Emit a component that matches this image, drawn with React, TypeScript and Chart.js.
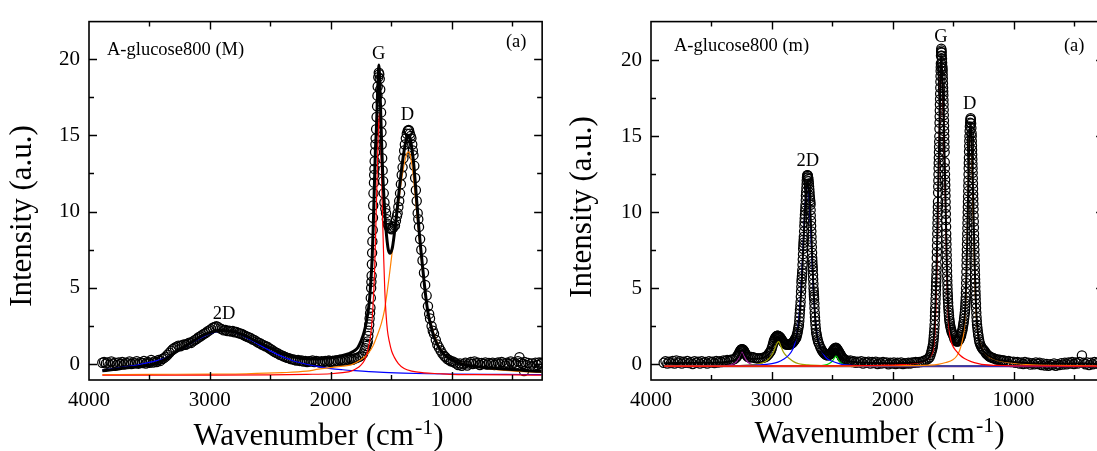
import React, { useEffect, useRef } from "react";
import { Chart, registerables } from "chart.js";

Chart.register(...registerables);

type Pair = [number, number];

// ---------- axis ticks ----------
const xMajorTicks = [4000, 3000, 2000, 1000];
const xMinorTicks = [3500, 2500, 1500, 500];
const yMajorTicks = [0, 5, 10, 15, 20];
const yMinorTicks = [2.5, 7.5, 12.5, 17.5];

// ---------- left panel: A-glucose800 (M) ----------
const leftMeasured: Pair[] = [
  [3890,0.10],[3875,0.15],[3860,0.05],[3845,0.12],[3830,-0.02],[3815,0.18],[3800,0.04],[3785,0.10],[3770,-0.05],[3755,0.12],
  [3740,0.02],[3725,0.15],[3710,0.00],[3695,0.10],[3680,0.05],[3665,0.18],[3650,0.02],[3635,0.12],[3620,0.06],[3605,0.20],
  [3590,0.04],[3575,0.14],[3560,0.08],[3545,0.22],[3530,0.05],[3515,0.15],[3500,0.10],[3485,0.28],[3470,0.12],[3455,0.20],
  [3440,0.15],[3425,0.28],[3410,0.22],[3395,0.35],[3380,0.40],[3365,0.50],[3350,0.62],[3335,0.75],[3320,0.88],[3305,1.00],
  [3290,1.08],[3275,1.15],[3260,1.22],[3245,1.18],[3230,1.25],[3215,1.30],[3200,1.28],[3185,1.35],[3170,1.42],[3155,1.40],
  [3140,1.50],[3125,1.58],[3110,1.65],[3095,1.75],[3080,1.82],[3065,1.90],[3050,1.98],[3035,2.05],[3020,2.15],[3005,2.22],
  [2990,2.30],[2975,2.40],[2960,2.45],[2945,2.50],[2930,2.42],[2915,2.35],[2900,2.30],[2885,2.22],[2870,2.25],[2855,2.18],
  [2840,2.20],[2825,2.15],[2810,2.18],[2795,2.10],[2780,2.12],[2765,2.05],[2750,2.02],[2735,1.98],[2720,1.92],[2705,1.85],
  [2690,1.80],[2675,1.75],[2660,1.70],[2645,1.62],[2630,1.58],[2615,1.50],[2600,1.42],[2585,1.38],[2570,1.30],[2555,1.25],
  [2540,1.18],[2525,1.15],[2510,1.05],[2495,0.98],[2480,0.90],[2465,0.82],[2450,0.75],[2435,0.70],[2420,0.62],[2405,0.58],
  [2390,0.52],[2375,0.48],[2360,0.42],[2345,0.40],[2330,0.35],[2315,0.32],[2300,0.30],[2285,0.25],[2270,0.28],[2255,0.22],
  [2240,0.25],[2225,0.18],[2210,0.22],[2195,0.15],[2180,0.20],[2165,0.18],[2150,0.25],[2135,0.15],[2120,0.22],[2105,0.18],
  [2090,0.12],[2075,0.20],[2060,0.15],[2045,0.22],[2030,0.18],[2015,0.25],[2000,0.15],[1985,0.22],[1970,0.18],[1955,0.25],
  [1940,0.20],[1925,0.28],[1910,0.22],[1895,0.30],[1880,0.25],[1865,0.32],[1850,0.28],[1835,0.35],[1820,0.30],[1805,0.38],
  [1790,0.40],[1775,0.45],[1760,0.50],[1745,0.58],[1732,0.70],[1720,0.90],[1712,1.05],[1705,1.20],[1699,1.35],[1693,1.50],
  [1689,1.85],[1685,2.20],[1681,2.60],[1678,3.00],[1674,3.35],[1671,3.70],[1668,4.35],[1665,5.00],[1663,5.40],[1661,5.80],
  [1659,6.55],[1657,7.30],[1655,8.05],[1652,8.80],[1650,9.60],[1648,10.40],[1646,11.20],[1642,11.90],[1640,12.40],[1638,12.80],
  [1636,13.30],[1633,13.90],[1630,14.40],[1628,14.80],[1624,15.40],[1620,16.20],[1616,16.90],[1613,17.60],[1611,18.20],[1606,18.80],
  [1602,19.10],[1598,19.00],[1594,18.70],[1590,18.00],[1586,17.20],[1583,16.50],[1581,15.80],[1580,15.20],[1578,14.40],[1574,13.50],
  [1570,12.70],[1566,12.00],[1561,11.20],[1555,10.60],[1548,10.20],[1542,9.90],[1535,9.50],[1528,9.20],[1523,9.10],[1515,8.95],
  [1505,8.90],[1496,8.85],[1488,8.90],[1480,9.00],[1468,9.10],[1460,9.40],[1452,9.70],[1446,9.90],[1440,10.30],[1433,10.70],
  [1426,11.20],[1419,11.80],[1412,12.40],[1405,12.90],[1398,13.50],[1392,14.00],[1386,14.40],[1378,14.80],[1370,15.10],[1362,15.30],
  [1355,15.35],[1351,15.30],[1345,15.10],[1338,14.95],[1332,14.80],[1325,14.40],[1320,14.00],[1315,13.70],[1308,13.00],[1301,12.20],
  [1295,11.40],[1288,10.70],[1280,9.90],[1275,9.50],[1269,9.00],[1260,8.20],[1250,7.50],[1240,6.80],[1228,6.00],[1218,5.20],
  [1206,4.50],[1195,3.80],[1185,3.30],[1178,3.00],[1165,2.50],[1155,2.20],[1145,2.00],[1130,1.60],[1118,1.30],[1104,1.10],
  [1090,0.90],[1075,0.70],[1060,0.55],[1050,0.47],[1035,0.35],[1020,0.28],[1005,0.20],[990,0.18],[975,0.12],[960,0.05],
  [945,-0.05],[930,0.05],[915,-0.10],[900,0.00],[885,0.10],[870,-0.08],[855,0.05],[840,0.15],[825,0.02],[810,0.18],
  [795,0.05],[780,0.10],[765,-0.05],[750,0.08],[735,0.02],[720,0.12],[705,-0.02],[690,0.08],[675,0.00],[660,0.10],
  [645,-0.05],[630,0.05],[615,0.12],[600,0.00],[585,0.15],[570,0.05],[555,-0.08],[540,0.10],[525,0.02],[510,0.18],
  [495,0.05],[480,0.12],[465,0.00],[450,0.20],[438,0.47],[425,0.10],[410,0.02],[400,-0.45],[395,0.15],[380,-0.05],
  [365,0.08],[350,-0.15],[335,0.05],[320,-0.10],[305,0.10],[290,-0.05],[275,0.12],[260,0.00],[255,0.10],
];

const leftFit: Pair[] = [
  [3890,-0.43],[3800,-0.35],[3700,-0.25],[3600,-0.17],[3500,-0.05],[3450,0.05],[3400,0.2],[3350,0.42],[3300,0.7],[3250,0.95],
  [3200,1.2],[3150,1.45],[3100,1.7],[3050,1.92],[3000,2.08],[2950,2.18],[2900,2.22],[2850,2.2],[2800,2.12],[2750,2.0],
  [2700,1.85],[2650,1.65],[2600,1.45],[2550,1.25],[2500,1.05],[2450,0.87],[2400,0.7],[2350,0.57],[2300,0.47],[2250,0.4],
  [2200,0.36],[2150,0.34],[2100,0.36],[2050,0.4],[2000,0.45],[1950,0.5],[1900,0.58],[1850,0.7],[1800,0.9],[1775,1.1],
  [1750,1.5],[1720,2.2],[1700,3.0],[1680,4.1],[1668,5.4],[1657,6.9],[1648,9.0],[1638,11.8],[1630,14.0],[1622,15.4],
  [1616,16.8],[1611,18.0],[1606,19.0],[1602,19.6],[1598,19.3],[1592,18.0],[1585,16.2],[1578,14.4],[1570,12.6],[1561,11.2],
  [1552,9.9],[1542,8.8],[1532,8.0],[1523,7.5],[1515,7.32],[1507,7.27],[1498,7.4],[1488,7.7],[1474,8.5],[1460,9.4],
  [1446,10.4],[1433,11.4],[1419,12.4],[1405,13.3],[1392,14.0],[1378,14.6],[1368,14.9],[1359,15.0],[1348,14.9],[1337,14.6],
  [1326,14.0],[1315,13.3],[1304,12.3],[1293,11.2],[1281,10.0],[1269,8.8],[1255,7.6],[1241,6.5],[1228,5.5],[1214,4.5],
  [1195,3.4],[1173,2.6],[1145,1.8],[1118,1.3],[1080,0.8],[1036,0.47],[980,0.22],[926,0.04],[860,-0.08],[790,-0.17],
  [700,-0.24],[625,-0.28],[500,-0.35],[400,-0.4],[300,-0.45],[255,-0.47],
];

const leftPeakG: Pair[] = [
  [3890,-0.72],[3000,-0.71],[2500,-0.69],[2200,-0.66],[2000,-0.62],[1900,-0.55],[1830,-0.45],[1780,-0.25],[1750,-0.05],[1720,0.26],
  [1700,0.7],[1680,1.4],[1665,2.2],[1650,3.8],[1638,5.8],[1628,8.5],[1616,12.2],[1606,15.2],[1597,16.5],[1590,15.5],
  [1578,12.2],[1570,9.4],[1561,6.9],[1552,4.8],[1542,3.3],[1530,2.2],[1515,1.5],[1495,0.85],[1474,0.47],[1440,0.05],
  [1392,-0.28],[1330,-0.45],[1228,-0.56],[1100,-0.62],[1008,-0.66],[800,-0.68],[500,-0.7],[255,-0.71],
];

const leftPeakD: Pair[] = [
  [3890,-0.68],[3500,-0.66],[3000,-0.64],[2700,-0.62],[2400,-0.55],[2200,-0.45],[2100,-0.32],[2000,-0.22],[1900,-0.12],[1830,-0.04],
  [1750,0.3],[1693,0.68],[1650,1.2],[1611,1.97],[1580,2.7],[1556,3.5],[1535,4.6],[1515,5.8],[1495,7.1],[1474,8.4],
  [1453,9.7],[1433,10.9],[1415,12.0],[1397,12.9],[1380,13.5],[1364,13.9],[1350,13.9],[1337,13.5],[1323,12.8],[1310,11.8],
  [1296,10.6],[1282,9.4],[1262,7.8],[1241,6.2],[1220,4.9],[1200,3.7],[1172,2.7],[1145,2.0],[1105,1.2],[1063,0.68],
  [1010,0.35],[954,0.15],[870,-0.05],[790,-0.17],[700,-0.27],[625,-0.35],[500,-0.43],[400,-0.48],[255,-0.53],
];

const leftPeak2D: Pair[] = [
  [3890,-0.38],[3800,-0.3],[3700,-0.17],[3600,-0.05],[3500,0.12],[3400,0.32],[3350,0.48],[3300,0.7],[3250,0.92],[3200,1.15],
  [3150,1.4],[3100,1.62],[3050,1.82],[3000,2.0],[2950,2.12],[2900,2.2],[2850,2.18],[2800,2.1],[2750,1.95],[2700,1.75],
  [2650,1.55],[2600,1.32],[2550,1.1],[2500,0.88],[2450,0.68],[2400,0.5],[2350,0.35],[2300,0.2],[2250,0.1],[2200,0.0],
  [2100,-0.15],[2000,-0.28],[1900,-0.36],[1800,-0.42],[1600,-0.52],[1400,-0.58],[1200,-0.62],[1000,-0.64],[700,-0.66],[400,-0.67],
  [255,-0.68],
];

// ---------- right panel: A-glucose800 (m) ----------
const rightMeasured: Pair[] = [
  [3895,0.10],[3880,0.20],[3865,0.05],[3850,0.18],[3835,0.08],[3820,0.22],[3805,0.05],[3790,0.25],[3775,0.10],[3760,0.20],
  [3745,0.05],[3730,0.18],[3715,0.10],[3700,0.22],[3685,0.08],[3670,0.15],[3655,0.02],[3640,0.20],[3625,0.10],[3610,0.18],
  [3595,0.05],[3580,0.20],[3565,0.10],[3550,0.15],[3535,0.05],[3520,0.20],[3505,0.12],[3490,0.18],[3475,0.08],[3460,0.22],
  [3445,0.12],[3430,0.20],[3415,0.15],[3400,0.25],[3385,0.20],[3370,0.28],[3355,0.22],[3340,0.30],[3325,0.30],[3310,0.35],
  [3295,0.45],[3285,0.55],[3278,0.65],[3270,0.75],[3265,0.85],[3260,0.90],[3255,0.97],[3250,1.00],[3245,1.00],[3240,0.98],
  [3235,0.93],[3230,0.88],[3225,0.80],[3220,0.72],[3215,0.66],[3210,0.60],[3200,0.50],[3185,0.45],[3170,0.48],[3155,0.47],
  [3140,0.42],[3125,0.40],[3110,0.38],[3095,0.40],[3080,0.42],[3065,0.45],[3050,0.50],[3040,0.56],[3030,0.65],[3020,0.75],
  [3014,0.82],[3008,0.90],[3001,1.05],[2995,1.20],[2990,1.35],[2985,1.50],[2980,1.60],[2975,1.70],[2970,1.76],[2965,1.82],
  [2960,1.86],[2955,1.88],[2950,1.88],[2945,1.86],[2940,1.84],[2935,1.80],[2930,1.75],[2925,1.70],[2919,1.62],[2913,1.55],
  [2906,1.47],[2900,1.40],[2893,1.36],[2885,1.32],[2878,1.30],[2871,1.30],[2863,1.29],[2855,1.30],[2848,1.32],[2840,1.35],
  [2835,1.38],[2830,1.40],[2822,1.47],[2815,1.55],[2810,1.62],[2805,1.70],[2798,1.75],[2794,1.90],[2790,2.00],[2786,2.15],
  [2783,2.30],[2779,2.45],[2776,2.60],[2773,2.85],[2771,3.10],[2769,3.35],[2767,3.60],[2764,3.85],[2762,4.10],[2760,4.45],
  [2758,4.80],[2756,5.10],[2755,5.40],[2753,5.60],[2751,5.80],[2749,6.00],[2748,6.20],[2746,6.55],[2744,6.90],[2742,7.25],
  [2741,7.60],[2739,7.80],[2738,8.00],[2736,8.20],[2735,8.40],[2733,8.75],[2731,9.10],[2729,9.35],[2728,9.60],[2726,9.85],
  [2724,10.10],[2722,10.30],[2721,10.50],[2719,10.80],[2718,11.10],[2716,11.35],[2714,11.60],[2712,11.85],[2711,12.10],[2709,12.30],
  [2707,12.44],[2704,12.45],[2702,12.40],[2700,12.30],[2698,12.20],[2696,12.05],[2694,11.90],[2692,11.70],[2690,11.50],[2688,11.30],
  [2687,11.10],[2685,10.95],[2683,10.80],[2681,10.65],[2680,10.50],[2679,10.15],[2678,9.80],[2676,9.45],[2675,9.10],[2673,8.75],
  [2672,8.40],[2670,8.05],[2669,7.70],[2667,7.35],[2666,7.00],[2665,6.80],[2664,6.60],[2662,6.40],[2661,6.20],[2659,5.90],
  [2658,5.60],[2656,5.30],[2655,5.00],[2653,4.80],[2652,4.60],[2651,4.45],[2650,4.30],[2648,4.00],[2647,3.70],[2645,3.40],
  [2643,3.10],[2641,2.85],[2639,2.60],[2636,2.35],[2633,2.10],[2629,1.95],[2626,1.80],[2622,1.65],[2617,1.50],[2610,1.35],
  [2600,1.15],[2592,1.02],[2584,0.90],[2577,0.82],[2570,0.75],[2562,0.70],[2555,0.65],[2549,0.62],[2543,0.60],[2536,0.60],
  [2530,0.62],[2522,0.65],[2515,0.68],[2508,0.74],[2502,0.80],[2496,0.88],[2490,0.95],[2485,1.00],[2480,1.05],[2475,1.08],
  [2469,1.10],[2464,1.06],[2460,1.00],[2455,0.95],[2450,0.90],[2445,0.82],[2440,0.75],[2435,0.68],[2430,0.62],[2424,0.53],
  [2418,0.45],[2412,0.40],[2405,0.35],[2398,0.31],[2392,0.28],[2380,0.25],[2365,0.20],[2350,0.25],[2335,0.15],[2320,0.20],
  [2305,0.10],[2290,0.18],[2275,0.12],[2260,0.20],[2245,0.05],[2230,0.15],[2215,0.10],[2200,0.18],[2185,0.05],[2170,0.15],
  [2155,0.08],[2140,0.18],[2125,0.02],[2110,0.12],[2095,0.05],[2080,0.15],[2065,0.08],[2050,0.12],[2035,0.00],[2020,0.10],
  [2005,0.05],[1990,0.12],[1975,0.02],[1960,0.10],[1945,0.05],[1930,0.12],[1915,0.02],[1900,0.08],[1885,0.05],[1870,0.10],
  [1855,0.05],[1840,0.12],[1825,0.10],[1810,0.15],[1795,0.12],[1780,0.15],[1765,0.15],[1750,0.20],[1735,0.25],[1720,0.30],
  [1705,0.38],[1694,0.47],[1687,0.62],[1680,0.80],[1676,0.93],[1672,1.05],[1669,1.18],[1666,1.30],[1663,1.50],[1661,1.70],
  [1659,1.90],[1657,2.10],[1655,2.35],[1653,2.60],[1651,2.90],[1650,3.20],[1649,3.45],[1648,3.70],[1646,4.00],[1645,4.30],
  [1643,4.60],[1642,4.90],[1641,5.15],[1640,5.40],[1639,5.65],[1638,5.90],[1637,6.20],[1636,6.50],[1635,7.00],[1634,7.40],
  [1633,7.80],[1632,8.20],[1631,8.60],[1630,8.95],[1629,9.30],[1628,9.65],[1627,10.00],[1626,10.35],[1625,10.70],[1624,11.30],
  [1623,11.70],[1622,12.10],[1621,12.50],[1620,12.90],[1619,13.25],[1618,13.60],[1617,13.95],[1616,14.30],[1615,14.65],[1614,15.00],
  [1613,15.50],[1612,15.90],[1611,16.30],[1610,16.70],[1609,17.10],[1608,17.45],[1607,17.80],[1606,18.20],[1605,18.60],[1604,18.95],
  [1603,19.30],[1602,19.55],[1601,19.80],[1600,20.30],[1599,20.55],[1598,20.77],[1596,20.65],[1595,20.50],[1594,20.30],[1592,20.10],
  [1591,19.85],[1589,19.60],[1588,19.45],[1587,19.30],[1586,19.05],[1585,18.80],[1584,18.50],[1583,18.20],[1582,17.95],[1581,17.70],
  [1580,17.40],[1579,17.10],[1578,16.75],[1577,16.40],[1576,16.05],[1575,15.70],[1574,15.35],[1573,15.00],[1572,14.65],[1571,14.30],
  [1570,13.95],[1569,13.30],[1568,12.90],[1567,12.50],[1566,12.15],[1565,11.80],[1564,11.45],[1563,11.10],[1562,10.70],[1561,10.30],
  [1560,9.90],[1559,9.50],[1558,9.05],[1557,8.60],[1556,8.25],[1555,7.90],[1554,7.55],[1553,7.20],[1552,6.85],[1551,6.50],
  [1550,6.15],[1549,5.80],[1548,5.50],[1547,5.20],[1546,4.95],[1545,4.70],[1544,4.50],[1543,4.30],[1541,4.05],[1540,3.80],
  [1538,3.60],[1536,3.40],[1534,3.20],[1532,3.00],[1530,2.85],[1527,2.70],[1524,2.55],[1520,2.40],[1516,2.27],[1512,2.15],
  [1507,2.05],[1502,1.97],[1496,1.85],[1490,1.70],[1484,1.62],[1478,1.55],[1472,1.52],[1466,1.50],[1460,1.52],[1455,1.55],
  [1450,1.62],[1445,1.70],[1440,1.80],[1434,1.90],[1430,2.05],[1425,2.20],[1421,2.35],[1418,2.50],[1415,2.65],[1412,2.80],
  [1409,3.00],[1406,3.20],[1403,3.40],[1401,3.60],[1399,3.80],[1398,4.00],[1396,4.20],[1395,4.40],[1394,4.70],[1393,5.00],
  [1392,5.35],[1391,5.70],[1390,6.10],[1389,6.50],[1388,6.85],[1387,7.20],[1386,7.55],[1385,7.90],[1384,8.25],[1383,8.60],
  [1382,8.95],[1381,9.30],[1380,9.65],[1379,10.00],[1378,10.35],[1377,10.70],[1376,11.05],[1375,11.40],[1374,11.75],[1373,12.10],
  [1372,12.50],[1371,12.90],[1370,13.25],[1369,13.60],[1368,14.00],[1367,14.35],[1366,14.70],[1365,15.00],[1363,15.35],[1361,15.65],
  [1359,15.90],[1357,16.10],[1355,16.20],[1353,16.10],[1351,15.85],[1349,15.55],[1347,15.20],[1346,15.00],[1345,14.70],[1344,14.40],
  [1343,14.10],[1342,13.80],[1341,13.50],[1340,13.20],[1339,12.90],[1338,12.60],[1337,12.25],[1336,11.90],[1335,11.55],[1334,11.20],
  [1333,10.90],[1332,10.55],[1331,10.20],[1330,9.80],[1329,9.40],[1328,9.00],[1327,8.60],[1326,8.25],[1325,7.90],[1324,7.55],
  [1323,7.20],[1322,6.85],[1321,6.50],[1320,6.20],[1319,5.90],[1318,5.60],[1317,5.35],[1316,5.10],[1315,4.80],[1314,4.55],
  [1313,4.30],[1311,4.00],[1310,3.70],[1308,3.40],[1306,3.10],[1304,2.85],[1302,2.60],[1299,2.40],[1296,2.20],[1293,2.00],
  [1290,1.85],[1286,1.65],[1283,1.50],[1277,1.35],[1270,1.20],[1262,1.10],[1255,1.00],[1248,0.95],[1242,0.90],[1233,0.80],
  [1225,0.70],[1215,0.62],[1205,0.55],[1196,0.50],[1187,0.47],[1176,0.43],[1165,0.40],[1152,0.36],[1140,0.32],[1128,0.31],
  [1115,0.30],[1102,0.27],[1090,0.25],[1078,0.26],[1060,0.20],[1040,0.22],[1020,0.15],[1000,0.18],[985,0.10],[968,0.15],
  [950,0.05],[935,0.12],[920,0.02],[905,0.15],[890,0.05],[875,0.10],[860,-0.02],[845,0.08],[830,0.00],[815,0.12],
  [800,0.02],[785,0.10],[770,-0.05],[755,0.05],[740,-0.08],[725,0.02],[710,-0.10],[695,0.00],[680,-0.05],[665,0.05],
  [650,-0.10],[635,0.00],[620,-0.05],[605,0.08],[590,-0.02],[575,0.10],[560,0.00],[545,0.12],[530,0.05],[515,0.15],
  [500,0.02],[485,0.12],[470,0.05],[455,0.15],[434,0.58],[420,0.10],[405,0.00],[390,0.12],[375,-0.05],[360,0.10],
  [345,0.00],[330,0.15],[315,0.05],[300,0.12],[285,-0.02],[270,0.10],[255,0.05],
];

const rightFit: Pair[] = [
  [3895,0.08],[3600,0.10],[3400,0.14],[3340,0.2],[3300,0.3],[3280,0.48],[3265,0.72],[3250,0.92],[3238,0.88],[3225,0.68],
  [3210,0.5],[3190,0.4],[3150,0.36],[3100,0.38],[3060,0.46],[3030,0.62],[3005,0.95],[2985,1.35],[2965,1.72],[2950,1.8],
  [2935,1.7],[2915,1.5],[2890,1.35],[2865,1.28],[2840,1.33],[2815,1.5],[2798,1.78],[2785,2.25],[2772,3.0],[2762,4.1],
  [2752,5.5],[2742,7.3],[2732,9.1],[2722,10.7],[2714,11.6],[2707,12.0],[2700,11.9],[2692,11.4],[2683,10.4],[2675,9.0],
  [2666,7.0],[2657,5.3],[2648,3.9],[2638,2.7],[2625,1.8],[2610,1.3],[2590,0.95],[2565,0.72],[2540,0.62],[2515,0.68],
  [2495,0.85],[2478,1.02],[2468,1.05],[2455,0.92],[2440,0.68],[2420,0.45],[2395,0.3],[2360,0.2],[2300,0.14],[2200,0.1],
  [2000,0.08],[1850,0.1],[1760,0.18],[1720,0.3],[1700,0.45],[1685,0.68],[1672,1.0],[1662,1.55],[1652,2.7],[1645,4.2],
  [1638,6.0],[1630,8.9],[1622,12.2],[1614,15.1],[1608,17.6],[1603,19.5],[1600,20.3],[1597,20.1],[1592,19.4],[1586,18.4],
  [1579,16.6],[1570,13.6],[1562,10.5],[1555,7.8],[1548,5.4],[1540,3.7],[1530,2.7],[1518,2.1],[1502,1.7],[1485,1.48],
  [1468,1.4],[1450,1.5],[1432,1.8],[1418,2.3],[1406,3.0],[1398,3.9],[1390,5.9],[1383,8.2],[1376,11.1],[1369,13.8],
  [1363,15.3],[1358,15.8],[1354,15.75],[1349,15.2],[1344,14.1],[1338,12.4],[1332,10.3],[1325,7.8],[1318,5.6],[1310,3.8],
  [1300,2.5],[1288,1.7],[1270,1.15],[1245,0.85],[1210,0.58],[1160,0.38],[1100,0.26],[1000,0.16],[850,0.08],[650,0.05],
  [450,0.05],[255,0.04],
];

const rightPeakG: Pair[] = [
  [3890,-0.12],[2500,-0.1],[2100,-0.06],[1900,0.0],[1800,0.08],[1740,0.22],[1700,0.42],[1680,0.62],[1665,0.95],[1652,1.9],
  [1642,3.8],[1633,6.6],[1624,10.6],[1615,14.7],[1608,17.6],[1603,19.4],[1600,20.0],[1597,19.8],[1592,19.1],[1586,18.0],
  [1579,16.2],[1570,13.1],[1562,10.0],[1555,7.3],[1548,4.9],[1540,3.1],[1530,2.1],[1516,1.5],[1495,1.1],[1475,0.88],
  [1440,0.58],[1406,0.38],[1350,0.18],[1290,0.05],[1242,-0.02],[1150,-0.07],[1000,-0.1],[250,-0.12],
];

const rightPeakD: Pair[] = [
  [3890,-0.12],[2500,-0.11],[2000,-0.09],[1700,-0.05],[1625,0.0],[1560,0.12],[1502,0.3],[1470,0.55],[1447,0.9],[1425,1.5],
  [1410,2.2],[1400,3.2],[1392,5.2],[1384,8.0],[1376,11.2],[1369,13.8],[1363,15.1],[1358,15.6],[1353,15.4],[1348,14.6],
  [1342,13.0],[1336,10.9],[1329,8.6],[1322,6.1],[1315,4.3],[1305,2.8],[1290,1.8],[1269,1.2],[1240,0.78],[1200,0.48],
  [1132,0.26],[1050,0.12],[900,0.0],[600,-0.07],[250,-0.1],
];

const rightPeak2D: Pair[] = [
  [3890,-0.12],[3300,-0.09],[3100,-0.04],[3000,0.05],[2950,0.15],[2900,0.35],[2860,0.6],[2830,0.95],[2810,1.35],[2795,1.85],
  [2782,2.6],[2770,3.6],[2758,5.0],[2746,6.9],[2735,8.8],[2725,10.4],[2716,11.4],[2708,11.85],[2702,11.8],[2694,11.3],
  [2686,10.3],[2677,8.7],[2668,6.9],[2658,5.2],[2648,3.8],[2636,2.6],[2620,1.7],[2600,1.1],[2575,0.7],[2550,0.42],
  [2500,0.2],[2450,0.06],[2392,-0.04],[2300,-0.08],[2100,-0.1],[1700,-0.11],[250,-0.12],
];

const rightPeak2945: Pair[] = [
  [3890,-0.12],[3400,-0.1],[3200,-0.05],[3104,0.04],[3050,0.2],[3010,0.5],[2985,0.85],[2965,1.25],[2952,1.45],[2945,1.5],
  [2938,1.45],[2925,1.18],[2905,0.82],[2880,0.56],[2858,0.4],[2820,0.18],[2776,0.04],[2700,-0.04],[2550,-0.08],[2300,-0.1],
  [250,-0.12],
];

const rightPeak3248: Pair[] = [
  [3890,-0.12],[3450,-0.1],[3360,-0.06],[3320,0.02],[3295,0.15],[3278,0.35],[3265,0.58],[3255,0.76],[3248,0.82],[3240,0.76],
  [3230,0.58],[3215,0.32],[3195,0.12],[3170,0.0],[3120,-0.06],[3000,-0.1],[2500,-0.12],[250,-0.12],
];

const rightPeak2471: Pair[] = [
  [3890,-0.12],[2750,-0.11],[2600,-0.08],[2545,-0.02],[2515,0.1],[2495,0.26],[2480,0.45],[2471,0.55],[2462,0.5],[2450,0.32],
  [2432,0.12],[2410,0.0],[2380,-0.06],[2250,-0.1],[250,-0.12],
];

const rightBaseline: Pair[] = [[3890,-0.12],[250,-0.12]];

// ---------- peak labels (data coordinates) ----------
const leftPeakLabels = [
  { text: "G", x: 1603, y: 20.35 },
  { text: "D", x: 1365, y: 16.3 },
  { text: "2D", x: 2883, y: 3.27 },
];
const rightPeakLabels = [
  { text: "G", x: 1601, y: 21.5 },
  { text: "D", x: 1362, y: 17.1 },
  { text: "2D", x: 2702, y: 13.4 },
];

const FONT = "'Liberation Serif', 'Times New Roman', Times, serif";

type LineSpec = { data: Pair[]; color: string; width: number };

type PanelSpec = {
  left: number;
  width: number;
  height: number;
  padTop: number;
  padRight: number;
  yWidth: number;
  xHeight: number;
  yMin: number;
  yMax: number;
  measured: Pair[];
  lines: LineSpec[];
  sample: string;
  sampleDx: number;
  sampleDy: number;
  panelDx: number;
  panelDy: number;
  peaks: { text: string; x: number; y: number }[];
  yTitleX: number;
  yTitleY: number;
  xTitleX: number;
  xTitleY: number;
};

const toPts = (arr: Pair[]) => arr.map(([x, y]) => ({ x, y }));

function makeDecor(spec: PanelSpec) {
  return {
    id: "decor",
    afterDraw(chart: any) {
      const { ctx, chartArea: a, scales } = chart;
      const xs = scales.x;
      const ys = scales.y;
      ctx.save();
      ctx.strokeStyle = "#000";
      ctx.lineWidth = 1.4;
      ctx.beginPath();
      const seg = (x1: number, y1: number, x2: number, y2: number) => {
        ctx.moveTo(x1, y1);
        ctx.lineTo(x2, y2);
      };
      const xt = (vals: number[], len: number) => {
        for (const v of vals) {
          const p = Math.round(xs.getPixelForValue(v)) + 0.5;
          if (p <= a.left + 1 || p >= a.right - 1) continue;
          seg(p, a.bottom, p, a.bottom - len);
          seg(p, a.top, p, a.top + len);
        }
      };
      const yt = (vals: number[], len: number) => {
        for (const v of vals) {
          const p = Math.round(ys.getPixelForValue(v)) + 0.5;
          if (p <= a.top + 1 || p >= a.bottom - 1) continue;
          seg(a.left, p, a.left + len, p);
          seg(a.right, p, a.right - len, p);
        }
      };
      xt(xMajorTicks, 8);
      xt(xMinorTicks, 5);
      yt(yMajorTicks, 8);
      yt(yMinorTicks, 5);
      ctx.stroke();
      ctx.lineWidth = 1.6;
      ctx.strokeRect(a.left, a.top, a.right - a.left, a.bottom - a.top);

      ctx.fillStyle = "#000";
      ctx.font = `18.5px ${FONT}`;
      ctx.textBaseline = "middle";
      ctx.textAlign = "left";
      ctx.fillText(spec.sample, a.left + spec.sampleDx, a.top + spec.sampleDy);
      ctx.textAlign = "center";
      ctx.fillText("(a)", a.right - spec.panelDx, a.top + spec.panelDy);
      for (const l of spec.peaks) {
        ctx.fillText(l.text, xs.getPixelForValue(l.x), ys.getPixelForValue(l.y));
      }

      // y-axis title
      ctx.save();
      ctx.translate(spec.yTitleX, spec.yTitleY);
      ctx.rotate(-Math.PI / 2);
      ctx.font = `31px ${FONT}`;
      ctx.textAlign = "center";
      ctx.textBaseline = "alphabetic";
      ctx.fillText("Intensity (a.u.)", 0, 0);
      ctx.restore();

      // x-axis title with superscript
      const mainFont = `31px ${FONT}`;
      const supFont = `22px ${FONT}`;
      const t1 = "Wavenumber (cm";
      const t2 = "-1";
      const t3 = ")";
      ctx.textAlign = "left";
      ctx.textBaseline = "alphabetic";
      ctx.font = mainFont;
      const w1 = ctx.measureText(t1).width;
      const w3 = ctx.measureText(t3).width;
      ctx.font = supFont;
      const w2 = ctx.measureText(t2).width;
      let x0 = spec.xTitleX - (w1 + w2 + w3) / 2;
      ctx.font = mainFont;
      ctx.fillText(t1, x0, spec.xTitleY);
      x0 += w1;
      ctx.font = supFont;
      ctx.fillText(t2, x0 + 1, spec.xTitleY - 11);
      x0 += w2 + 1;
      ctx.font = mainFont;
      ctx.fillText(t3, x0, spec.xTitleY);
      ctx.restore();
    },
  };
}

function Panel({ spec }: { spec: PanelSpec }) {
  const ref = useRef<HTMLCanvasElement | null>(null);
  useEffect(() => {
    if (!ref.current) return;
    const lineSets = spec.lines.map((l) => ({
      data: toPts(l.data),
      showLine: true,
      borderColor: l.color,
      backgroundColor: l.color,
      borderWidth: l.width,
      pointRadius: 0,
      pointHoverRadius: 0,
      fill: false,
      cubicInterpolationMode: "monotone" as const,
    }));
    const chart = new Chart(ref.current, {
      type: "scatter",
      data: {
        datasets: [
          ...lineSets,
          {
            data: toPts(spec.measured),
            showLine: false,
            pointStyle: "circle",
            pointRadius: 4.6,
            pointBorderWidth: 1.25,
            pointBorderColor: "#000",
            pointBackgroundColor: "rgba(0,0,0,0)",
            borderColor: "#000",
            backgroundColor: "rgba(0,0,0,0)",
          },
        ],
      },
      plugins: [makeDecor(spec)],
      options: {
        animation: false,
        responsive: false,
        maintainAspectRatio: false,
        devicePixelRatio: 1,
        layout: { padding: { top: spec.padTop, right: spec.padRight, left: 0, bottom: 0 } },
        plugins: { legend: { display: false }, tooltip: { enabled: false } },
        events: [],
        scales: {
          x: {
            type: "linear",
            reverse: true,
            min: 250,
            max: 4000,
            grid: { display: false, drawTicks: false },
            border: { display: false },
            afterBuildTicks: (s: any) => {
              s.ticks = xMajorTicks.map((v) => ({ value: v }));
            },
            afterFit: (s: any) => {
              s.height = spec.xHeight;
            },
            ticks: {
              autoSkip: false,
              maxRotation: 0,
              padding: 8,
              color: "#000",
              font: { family: FONT, size: 21 },
              callback: (v: any) => String(v),
            },
          },
          y: {
            type: "linear",
            min: spec.yMin,
            max: spec.yMax,
            grid: { display: false, drawTicks: false },
            border: { display: false },
            afterBuildTicks: (s: any) => {
              s.ticks = yMajorTicks.map((v) => ({ value: v }));
            },
            afterFit: (s: any) => {
              s.width = spec.yWidth;
            },
            ticks: {
              autoSkip: false,
              padding: 9,
              color: "#000",
              font: { family: FONT, size: 21 },
              callback: (v: any) => String(v),
            },
          },
        },
      },
    } as any);
    return () => chart.destroy();
  }, [spec]);
  return (
    <canvas
      ref={ref}
      width={spec.width}
      height={spec.height}
      style={{ position: "absolute", left: spec.left, top: 0, width: spec.width, height: spec.height }}
    />
  );
}

const leftSpec: PanelSpec = {
  left: 0,
  width: 548,
  height: 451,
  padTop: 14,
  padRight: 2,
  yWidth: 89,
  xHeight: 71,
  yMin: -1.03,
  yMax: 22.45,
  measured: leftMeasured,
  lines: [
    { data: leftFit, color: "#000000", width: 3 },
    { data: leftPeakG, color: "#ff0000", width: 1.2 },
    { data: leftPeakD, color: "#ff8000", width: 1.2 },
    { data: leftPeak2D, color: "#0000ff", width: 1.2 },
  ],
  sample: "A-glucose800 (M)",
  sampleDx: 18,
  sampleDy: 29,
  panelDx: 26,
  panelDy: 21,
  peaks: leftPeakLabels,
  yTitleX: 31,
  yTitleY: 216,
  xTitleX: 318,
  xTitleY: 445,
};

const rightSpec: PanelSpec = {
  left: 560,
  width: 550,
  height: 451,
  padTop: 12,
  padRight: 3,
  yWidth: 91,
  xHeight: 71,
  yMin: -1.03,
  yMax: 22.55,
  measured: rightMeasured,
  lines: [
    { data: rightFit, color: "#000000", width: 2 },
    { data: rightPeakG, color: "#ff0000", width: 1.2 },
    { data: rightPeakD, color: "#ff8000", width: 1.2 },
    { data: rightPeak2D, color: "#0000ff", width: 1.2 },
    { data: rightPeak2945, color: "#a0a000", width: 1.2 },
    { data: rightPeak3248, color: "#a020a0", width: 1.2 },
    { data: rightPeak2471, color: "#00d000", width: 1.2 },
    { data: rightBaseline, color: "#7d2a6a", width: 2 },
  ],
  sample: "A-glucose800 (m)",
  sampleDx: 23,
  sampleDy: 25,
  panelDx: 30,
  panelDy: 25,
  peaks: rightPeakLabels,
  yTitleX: 31,
  yTitleY: 207,
  xTitleX: 319,
  xTitleY: 443,
};

export default function App() {
  return (
    <div
      style={{
        position: "absolute",
        left: 0,
        top: 0,
        width: 1097,
        height: 451,
        overflow: "hidden",
        background: "#ffffff",
      }}
    >
      <Panel spec={leftSpec} />
      <Panel spec={rightSpec} />
    </div>
  );
}
